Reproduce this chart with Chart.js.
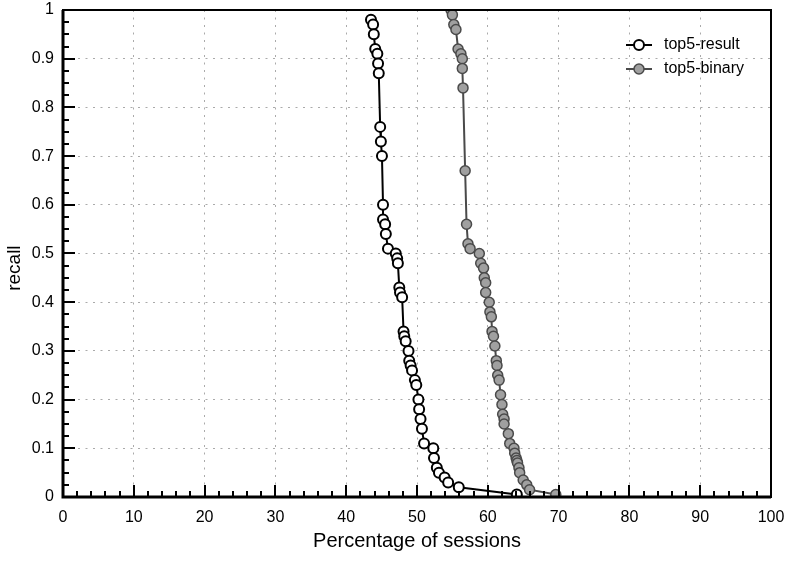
<!DOCTYPE html>
<html>
<head>
<meta charset="utf-8">
<script src="https://cdn.jsdelivr.net/npm/chart.js@4.4.1/dist/chart.umd.min.js"></script>
<style>
  html, body { margin: 0; padding: 0; background: #fff; }
</style>
</head>
<body>
<canvas id="chart" width="789" height="561"></canvas>
<script>
// series values
const resultX = [43.5, 43.8, 43.9, 44.1, 44.4, 44.5, 44.6, 44.8, 44.9, 45.05, 45.2, 45.2, 45.5, 45.6, 45.9,
  47.0, 47.2, 47.3, 47.5, 47.6, 47.9, 48.1, 48.2, 48.4, 48.8, 48.9, 49.1, 49.3, 49.7, 49.9,
  50.2, 50.3, 50.5, 50.7, 51.0, 52.3, 52.4, 52.8, 53.1, 53.9, 54.4, 55.9, 64.1];
const resultY = [0.98, 0.97, 0.95, 0.92, 0.91, 0.89, 0.87, 0.76, 0.73, 0.70, 0.60, 0.57, 0.56, 0.54, 0.51,
  0.50, 0.49, 0.48, 0.43, 0.42, 0.41, 0.34, 0.33, 0.32, 0.30, 0.28, 0.27, 0.26, 0.24, 0.23,
  0.20, 0.18, 0.16, 0.14, 0.11, 0.10, 0.08, 0.06, 0.05, 0.04, 0.03, 0.02, 0.005];

const binaryX = [54.8, 55.0, 55.2, 55.5, 55.8, 56.2, 56.4, 56.4, 56.5, 56.8, 57.0, 57.2, 57.5, 58.8, 59.0,
  59.4, 59.5, 59.7, 59.7, 60.2, 60.3, 60.5, 60.6, 60.8, 61.0, 61.2, 61.3, 61.4, 61.6, 61.8,
  62.0, 62.1, 62.3, 62.3, 62.9, 63.1, 63.7, 63.8, 64.0, 64.1, 64.2, 64.4, 64.5, 65.0, 65.5, 65.9, 69.6];
const binaryY = [1.0, 0.99, 0.97, 0.96, 0.92, 0.91, 0.90, 0.88, 0.84, 0.67, 0.56, 0.52, 0.51, 0.50, 0.48,
  0.47, 0.45, 0.44, 0.42, 0.40, 0.38, 0.37, 0.34, 0.33, 0.31, 0.28, 0.27, 0.25, 0.24, 0.21,
  0.19, 0.17, 0.16, 0.15, 0.13, 0.11, 0.10, 0.09, 0.08, 0.075, 0.07, 0.06, 0.05, 0.035, 0.025, 0.015, 0.005];

const seriesNames = ['top5-result', 'top5-binary'];
const xTitle = 'Percentage of sessions';
const yTitle = 'recall';
const xMinorStep = 2;
const yMinorStep = 0.025;

const FONT = '"Liberation Sans", Arial, Helvetica, sans-serif';

function toPoints(xs, ys) {
  return xs.map((x, i) => ({x: x, y: ys[i]}));
}

// frame box, inward tick marks and the y title
const framePlugin = {
  id: 'frame',
  afterDraw(chart) {
    const ctx = chart.ctx;
    const a = chart.chartArea;
    const xs = chart.scales.x, ys = chart.scales.y;
    ctx.save();
    ctx.strokeStyle = '#000';
    ctx.lineWidth = 2;
    ctx.strokeRect(a.left, a.top, a.right - a.left, a.bottom - a.top);
    ctx.lineWidth = 3;
    ctx.beginPath();
    ctx.moveTo(a.left, a.top); ctx.lineTo(a.left, a.bottom); ctx.lineTo(a.right, a.bottom);
    ctx.stroke();
    ctx.lineWidth = 2;
    ctx.beginPath();
    for (let v = 0; v <= 100.001; v += xMinorStep) {
      const px = Math.round(xs.getPixelForValue(v));
      const len = (Math.round(v) % 10 === 0) ? 12 : 6;
      ctx.moveTo(px, a.bottom); ctx.lineTo(px, a.bottom - len);
    }
    for (let v = 0; v <= 1.0001; v += yMinorStep) {
      const py = Math.round(ys.getPixelForValue(v));
      const major = Math.abs(v * 10 - Math.round(v * 10)) < 0.001;
      ctx.moveTo(a.left, py); ctx.lineTo(a.left + (major ? 12 : 6), py);
    }
    ctx.stroke();
    // y title, a bit below the middle as in the original
    ctx.translate(15, ys.getPixelForValue(0.47));
    ctx.rotate(-Math.PI / 2);
    ctx.fillStyle = '#000';
    ctx.font = '19px ' + FONT;
    ctx.textAlign = 'center';
    ctx.textBaseline = 'middle';
    ctx.fillText(yTitle, 0, 0);
    ctx.restore();
  }
};

// legend in the top right corner: line with marker, then label
const legendPlugin = {
  id: 'lineLegend',
  afterDraw(chart) {
    const ctx = chart.ctx;
    const rows = [45, 69];
    ctx.save();
    chart.data.datasets.forEach((ds, i) => {
      const y = rows[i];
      ctx.strokeStyle = ds.borderColor;
      ctx.lineWidth = 2;
      ctx.beginPath(); ctx.moveTo(626, y); ctx.lineTo(652, y); ctx.stroke();
      ctx.beginPath();
      ctx.arc(639, y, ds.pointRadius, 0, Math.PI * 2);
      ctx.fillStyle = ds.pointBackgroundColor;
      ctx.fill();
      ctx.lineWidth = ds.pointBorderWidth;
      ctx.strokeStyle = ds.pointBorderColor;
      ctx.stroke();
      ctx.fillStyle = '#000';
      ctx.font = '16px ' + FONT;
      ctx.textBaseline = 'middle';
      ctx.fillText(ds.label, 664, y);
    });
    ctx.restore();
  }
};

const ctx = document.getElementById('chart').getContext('2d');
new Chart(ctx, {
  type: 'scatter',
  data: {
    datasets: [
      {
        label: seriesNames[0],
        data: toPoints(resultX, resultY),
        showLine: true,
        borderColor: '#000',
        borderWidth: 2,
        pointRadius: 5,
        pointBackgroundColor: '#fff',
        pointBorderColor: '#000',
        pointBorderWidth: 2,
        clip: 0
      },
      {
        label: seriesNames[1],
        data: toPoints(binaryX, binaryY),
        showLine: true,
        borderColor: '#4a4a4a',
        borderWidth: 2,
        pointRadius: 5,
        pointBackgroundColor: '#a0a0a0',
        pointBorderColor: '#4a4a4a',
        pointBorderWidth: 1.5,
        clip: 0
      }
    ]
  },
  options: {
    responsive: false,
    animation: false,
    layout: { padding: { top: 10, right: 18, left: 0, bottom: 0 } },
    plugins: { legend: { display: false }, tooltip: { enabled: false } },
    scales: {
      x: {
        type: 'linear', min: 0, max: 100,
        afterFit(s) { s.height = 64; s.paddingLeft = 0; s.paddingRight = 0; },
        ticks: { stepSize: 10, color: '#000', padding: 11, font: { family: FONT, size: 16 }, maxRotation: 0 },
        grid: { color: '#aaa', lineWidth: 1, drawTicks: false },
        border: { display: false, dash: [2, 5.5] },
        title: { display: true, text: xTitle, color: '#000',
                 font: { family: FONT, size: 20 }, padding: { top: 0, bottom: 8 } }
      },
      y: {
        type: 'linear', min: 0, max: 1,
        afterFit(s) { s.width = 63; s.paddingTop = 0; s.paddingBottom = 0; },
        ticks: { stepSize: 0.1, color: '#000', padding: 9, font: { family: FONT, size: 16 },
                 callback: v => String(Number(v.toFixed(1))) },
        grid: { color: '#aaa', lineWidth: 1, drawTicks: false },
        border: { display: false, dash: [2, 5.5] }
      }
    }
  },
  plugins: [framePlugin, legendPlugin]
});
</script>
</body>
</html>
